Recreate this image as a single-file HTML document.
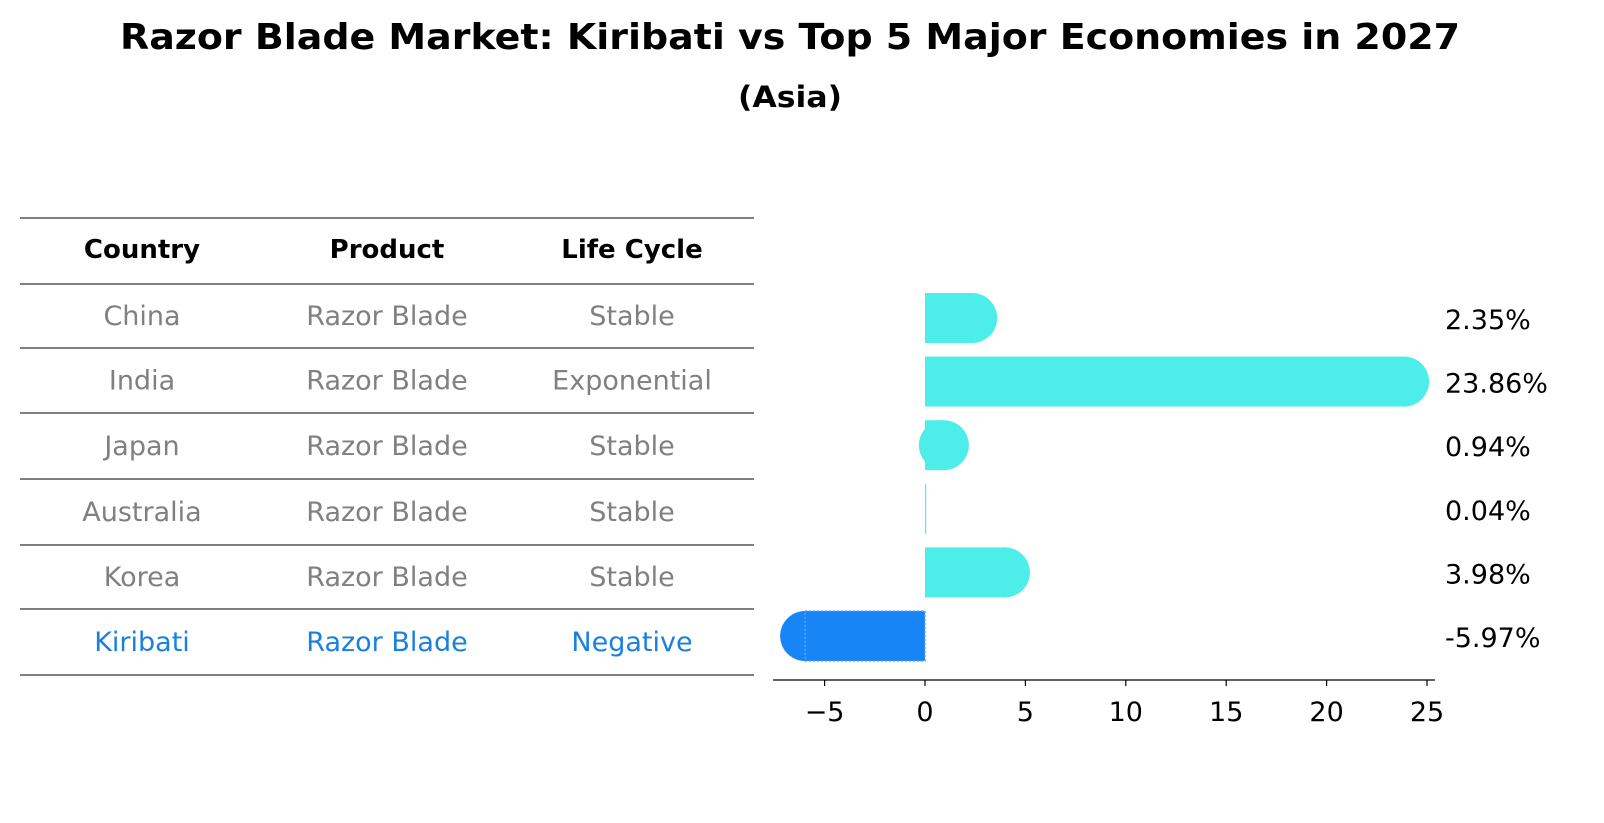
<!DOCTYPE html>
<html><head><meta charset="utf-8"><style>
body{margin:0;background:#fff;font-family:"Liberation Sans","DejaVu Sans",sans-serif;}
#wrap{position:relative;width:1604px;height:823px;overflow:hidden;}
</style></head><body>
<div id="wrap">
<svg id="svg" width="1604" height="823" xmlns="http://www.w3.org/2000/svg" font-family="DejaVu Sans, Liberation Sans, sans-serif">
<text x="790" y="49" text-anchor="middle" font-size="36" font-weight="bold" textLength="1340" lengthAdjust="spacingAndGlyphs">Razor Blade Market: Kiribati vs Top 5 Major Economies in 2027</text>
<text x="790" y="107" text-anchor="middle" font-size="29" font-weight="bold" textLength="104" lengthAdjust="spacingAndGlyphs">(Asia)</text>
<g id="table"></g>
<g id="bars"></g>
</svg>
</div>
<script>
const countries=["China","India","Japan","Australia","Korea","Kiribati"];
const products=["Razor Blade","Razor Blade","Razor Blade","Razor Blade","Razor Blade","Razor Blade"];
const lifeCycles=["Stable","Exponential","Stable","Stable","Stable","Negative"];
const growthValues=[2.35,23.86,0.94,0.04,3.98,-5.97];
const valueLabels=["2.35%","23.86%","0.94%","0.04%","3.98%","-5.97%"];
const xTicks=[-5,0,5,10,15,20,25];
const highlight="Kiribati";

const NS="http://www.w3.org/2000/svg";
function mk(t,a,p){const e=document.createElementNS(NS,t);for(const k in a)e.setAttribute(k,a[k]);p.appendChild(e);return e;}
const tbl=document.getElementById('table'), g=document.getElementById('bars');
const rowLines=[218,284,348,413,479,545,609,675];
const colX=[142,387,632];
rowLines.forEach((y,i)=>{const l=mk('line',{x1:20,x2:754,y1:y,y2:y,stroke:'#000','stroke-width':1},tbl);
});
["Country","Product","Life Cycle"].forEach((h,i)=>{const t=mk('text',{x:colX[i],y:258,'text-anchor':'middle','font-size':26,'font-weight':'bold'},tbl);t.textContent=h;
});
countries.forEach((c,r)=>{const y=(rowLines[r+1]+rowLines[r+2])/2+9;const col=c===highlight?'#1a80e0':'#808080';
[c,products[r],lifeCycles[r]].forEach((v,i)=>{const t=mk('text',{x:colX[i],y:y,'text-anchor':'middle','font-size':27,fill:col},tbl);t.textContent=v;
});});
const x0=925, pxPer=(1427-925)/25;
const X=v=>x0+v*pxPer;
const rowY=i=>318+i*63.6;
const bh=50;
growthValues.forEach((v,i)=>{
 const neg=v<0, col=neg?'#1785f5':'#4deeea';
 const cy=rowY(i), xa=Math.min(X(0),X(v)), w=Math.abs(X(v)-X(0));
 if(Math.abs(v)>0.3){const c=mk('circle',{cx:X(v),cy:cy,r:bh/2,fill:col},g);
  }
 const r=mk('rect',{x:xa,y:cy-bh/2,width:Math.max(w,1.2),height:bh,fill:col},g);
 if(neg){r.setAttribute('stroke','#5aa8ff');r.setAttribute('stroke-dasharray','2,2');r.setAttribute('stroke-width','1.5');}
 
 const t=mk('text',{x:1445,y:cy+11,'font-size':27},g);t.textContent=valueLabels[i];
 
});
const ax=mk('line',{x1:773,x2:1435,y1:680,y2:680,stroke:'#000','stroke-width':1.3},g);

xTicks.forEach(v=>{const tk=mk('line',{x1:X(v),x2:X(v),y1:680,y2:686,stroke:'#000','stroke-width':1.2},g);

const t=mk('text',{x:X(v),y:721,'text-anchor':'middle','font-size':27},g);t.textContent=v<0?'\u2212'+(-v):String(v);
});
</script>
</body></html>
